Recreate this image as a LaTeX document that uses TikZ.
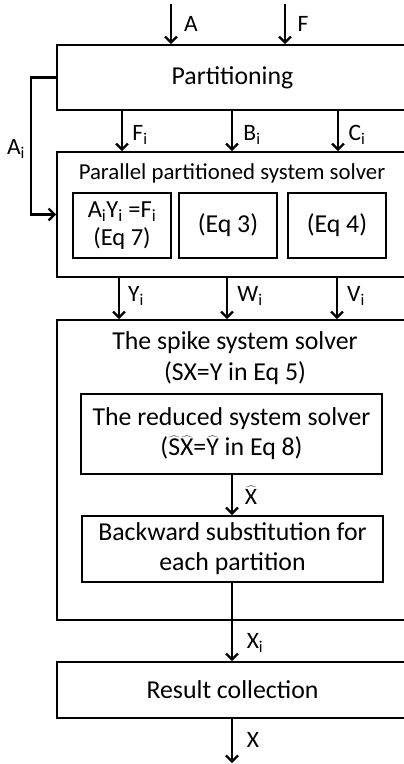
\documentclass[tikz,border=0pt]{standalone}
\usepackage{fontspec}
\setmainfont{Carlito}
\usetikzlibrary{arrows.meta}
\begin{document}
\begin{tikzpicture}[x=1pt,y=-1pt,
  box/.style={draw, line width=1.8pt, minimum width=#1, inner sep=0pt, align=center},
  big/.style={font=\fontsize{25.8}{30}\selectfont},
  mid/.style={font=\fontsize{22.8}{26}\selectfont},
  lbl/.style={font=\fontsize{23.5}{26}\selectfont, inner sep=0pt},
  arr/.style={line width=2.2pt, -{Straight Barb[length=6pt,width=12pt,line width=2.2pt]}},
  ln/.style={line width=2.2pt}]
\useasboundingbox (0,0) rectangle (404,764);
\clip (0,0) rectangle (404,764);
% boxes
\node[box=351pt, minimum height=65pt, big] (part) at (232.5,77.5) {Partitioning};
\node[box=351pt, minimum height=125pt] (solver) at (232.5,214.5) {};
\node[mid, inner sep=0pt] (soltitle) at (232,173) {Parallel partitioned system solver};
\node[box=98pt, minimum height=65pt, font=\fontsize{24.5}{28}\selectfont] (eqa) at (122,225.5) {A\textsubscript{i}Y\textsubscript{i} =F\textsubscript{i}\\(Eq 7)};
\node[box=98pt, minimum height=65pt, big] (eqb) at (228,225.5) {(Eq 3)};
\node[box=98pt, minimum height=65pt, big] (eqc) at (337,225.5) {(Eq 4)};
\node[box=351pt, minimum height=300pt] (spike) at (232.5,470) {};
\node[big, inner sep=0pt] (spt1) at (235,343) {The spike system solver};
\node[big, inner sep=0pt] (spt2) at (235,373) {(SX=Y in Eq 5)};
\node[box=301pt, minimum height=80pt, big] (red) at (231.5,434) {The reduced system solver\\($\widehat{\mathrm{S}}\widehat{\mathrm{X}}$=$\widehat{\mathrm{Y}}$ in Eq 8)};
\node[box=301pt, minimum height=66pt, big] (back) at (232.5,549) {Backward substitution for\\each partition};
\node[box=351pt, minimum height=56pt, big] (res) at (232.5,690) {Result collection};
% inputs
\coordinate (inA) at (171,4);
\coordinate (inF) at (285,4);
\coordinate (outX) at (232,763);
\draw[arr] (inA) -- (inA |- part.north);
\draw[arr] (inF) -- (inF |- part.north);
\node[lbl] at (191,24) {A};
\node[lbl] at (303,24) {F};
% Ai feedback
\draw[arr] (part.west) -- ++(-25,0) |- (solver.west);
\node[lbl] at (16,149) {A\textsubscript{i}};
% partition outputs
\draw[arr] (part.south -| 122,0) -- (solver.north -| 122,0);
\draw[arr] (part.south -| 232,0) -- (solver.north -| 232,0);
\draw[arr] (part.south -| 338,0) -- (solver.north -| 338,0);
\node[lbl] at (140,135) {F\textsubscript{i}};
\node[lbl] at (252,135) {B\textsubscript{i}};
\node[lbl] at (357,135) {C\textsubscript{i}};
% solver outputs
\draw[arr] (solver.south -| 119,0) -- (spike.north -| 119,0);
\draw[arr] (solver.south -| 227,0) -- (spike.north -| 227,0);
\draw[arr] (solver.south -| 337,0) -- (spike.north -| 337,0);
\node[lbl] at (136,296) {Y\textsubscript{i}};
\node[lbl] at (250,296) {W\textsubscript{i}};
\node[lbl] at (356,296) {V\textsubscript{i}};
% inside spike
\draw[arr] (red.south -| 232,0) -- (back.north -| 232,0);
\node[lbl] at (251,495) {$\widehat{\mathrm{X}}$};
\draw[arr] (back.south -| 232,0) -- (res.north -| 232,0);
\node[lbl] at (255,643) {X\textsubscript{i}};
\draw[arr] (res.south -| 232,0) -- (outX);
\node[lbl] at (253,740) {X};
\end{tikzpicture}
\end{document}
